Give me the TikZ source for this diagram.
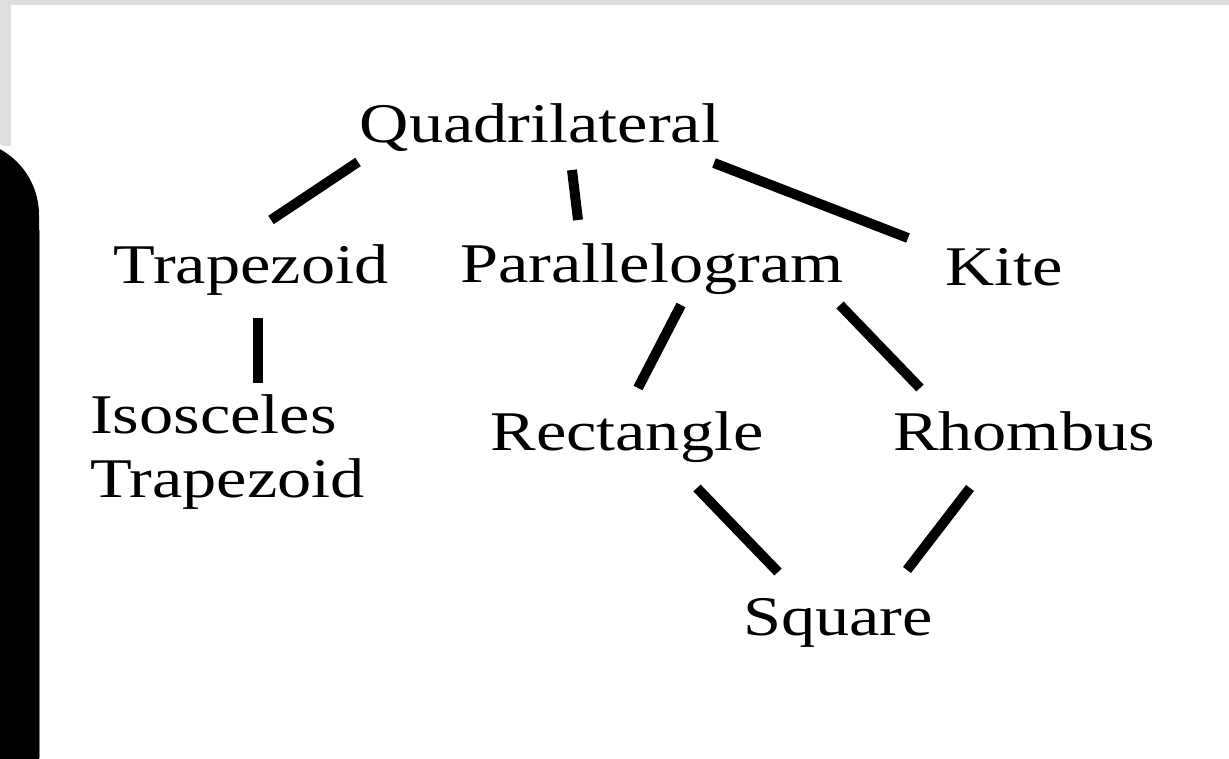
\documentclass[tikz,border=0pt]{standalone}
\usepackage{fontspec}
\setmainfont{Liberation Serif}[FakeStretch=1.22]
\usetikzlibrary{calc}
\begin{document}
\begin{tikzpicture}[x=1pt,y=-1pt,
  lbl/.style={inner sep=0pt, font=\fontsize{56}{64}\selectfont, anchor=base},
  edge/.style={line width=10pt, line cap=butt, black}]
\useasboundingbox (0,0) rectangle (1229,758);
\clip (0,0) rectangle (1229,758);
\fill[white] (0,0) rectangle (1229,758);
% frame bands
\fill[gray!25!white] (0,0) rectangle (1229,5);
\fill[gray!25!white] (0,0) rectangle (11,146);
% black side shape
\fill[white, rounded corners=78pt] (-100,136) -- (43,136) -- (43,1200) -- (-100,1200) -- cycle;
\fill[black, rounded corners=75pt] (-100,140) -- (39,140) -- (39,1200) -- (-100,1200) -- cycle;
\draw[gray, line width=1pt] (39.5,230) -- (39.5,758);
% nodes
\node[lbl] (q) at (540,142) {Quadrilateral};
\node[lbl] (t) at (251,283) {Trapezoid};
\node[lbl] (p) at (652,282) {Parallelogram};
\node[lbl] (k) at (1004,285) {Kite};
\node[lbl, anchor=base west] (iso) at (90,433)
  {\begin{tabular}[t]{@{}l@{}}Isosceles\\Trapezoid\end{tabular}};
\node[lbl] (rect) at (627,450) {Rectangle};
\node[lbl] (rh) at (1024,450) {Rhombus};
\node[lbl] (sq) at (838,635) {Square};
% connectors
\draw[edge] ($(q.base)+(-182,20)$) -- ($(t.base)+(20,-63)$);
\draw[edge] ($(q.base)+(32,28)$) -- ($(p.base)+(-74,-62)$);
\draw[edge] ($(q.base)+(174,21)$) -- ($(k.base)+(-96,-47)$);
\draw[edge] ($(t.base)+(7,35)$) -- ($(iso.base west)+(168,-50)$);
\draw[edge] ($(p.base)+(29,23)$) -- ($(rect.base)+(11,-62)$);
\draw[edge] ($(p.base)+(188,23)$) -- ($(rh.base)+(-104,-62)$);
\draw[edge] ($(rect.base)+(70,38)$) -- ($(sq.base)+(-60,-63)$);
\draw[edge] ($(rh.base)+(-54,38)$) -- ($(sq.base)+(69,-65)$);
\end{tikzpicture}
\end{document}
